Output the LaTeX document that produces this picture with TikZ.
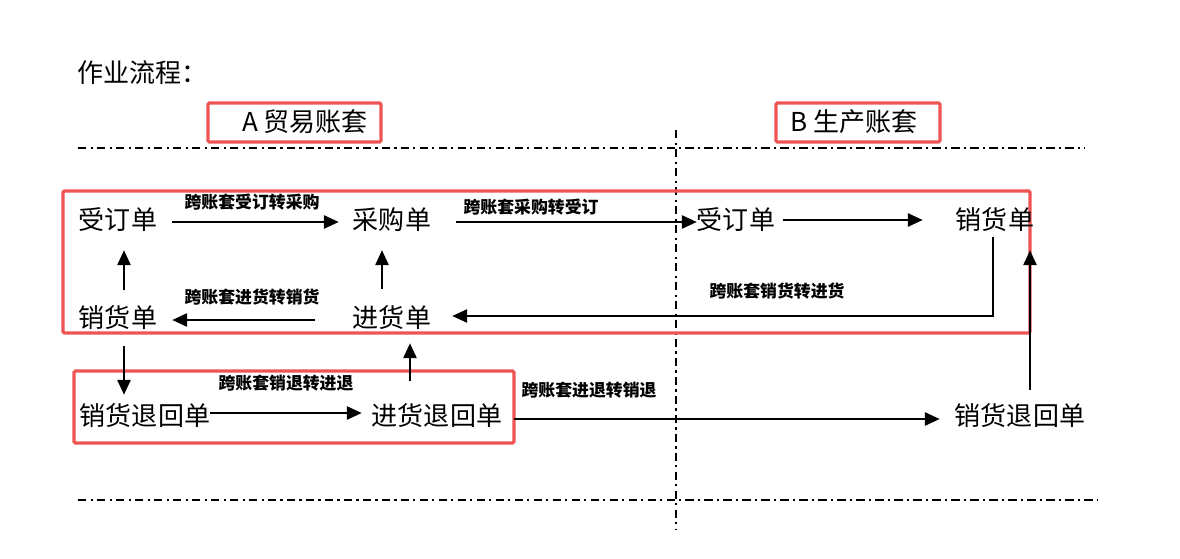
\documentclass[tikz,border=0pt]{standalone}
\usepackage{fontspec}
\setmainfont{Noto Sans CJK SC}
\usepackage{tikz}
\usetikzlibrary{calc}
\usetikzlibrary{arrows.meta}

\definecolor{boxred}{RGB}{238,84,84}
% one pixel of the page
\newcommand{\px}[1]{#1*0.025cm}

\begin{document}
\begin{tikzpicture}[
    x=0.025cm,y=-0.025cm,
    every node/.style={inner sep=0pt},
    doc/.style={font=\fontsize{18.5}{20}\selectfont},
    lbl/.style={font=\fontsize{12}{14}\selectfont\bfseries},
    arr/.style={draw,line width=1.4pt,-{Triangle[length=0.37cm,width=0.33cm]}},
    redbox/.style={draw=boxred,line width=2.2pt,rounded corners=1pt},
    sep/.style={line width=1.2pt,dash pattern=on 6pt off 3pt on 1.5pt off 3pt}
    ]
    \useasboundingbox (0,0) rectangle (1180,559);
    % title and the two account sets
    \node[doc,anchor=west] (title) at (77,73) {作业流程：};
    \node[doc] (setA) at (305,122) {A 贸易账套};
    \node[doc] (setB) at (854,122) {B 生产账套};
    \draw[redbox] (208,103) rectangle (381,142);
    \draw[redbox] (776,103) rectangle (940,142);
    % separators
    \draw[sep] (78,148) -- (1085,148);
    \draw[sep] (78,500) -- (1098,500);
    \draw[sep] (676,130) -- (676,530);
    % red frames
    \draw[redbox] (63,191) rectangle (1030,333);
    \draw[redbox] (74,371) rectangle (514,443);
    % documents
    \node[doc] (sdA) at (118,220) {受订单};
    \node[doc] (cg)  at (392,220) {采购单};
    \node[doc] (sdB) at (736,220) {受订单};
    \node[doc] (xhB) at (995,220) {销货单};
    \node[doc] (xhA) at (118,318) {销货单};
    \node[doc] (jh)  at (392,318) {进货单};
    \node[doc] (xt)  at (145,416) {销货退回单};
    \node[doc] (jt)  at (437,416) {进货退回单};
    \node[doc] (xtB) at (1020,416) {销货退回单};
    % labels
    \node[lbl] (l1) at (252,202) {跨账套受订转采购};
    \node[lbl] (l2) at (531,207) {跨账套采购转受订};
    \node[lbl] (l3) at (252,297) {跨账套进货转销货};
    \node[lbl] (l4) at (777,291) {跨账套销货转进货};
    \node[lbl] (l5) at (286,383) {跨账套销退转进退};
    \node[lbl] (l6) at (589,390) {跨账套进退转销退};
    % 1) top row
    \draw[arr,shorten <=\px{15},shorten >=\px{14}]
      ($(sdA.east)+(0,2)$) -- ($(cg.west)+(0,2)$);
    \draw[arr,shorten <=\px{25}]
      ($(cg.east)+(0,2)$) -- ($(sdB.west)+(0,2)$);
    \draw[arr,shorten <=\px{8},shorten >=\px{33}] (sdB.east) -- (xhB.west);
    % 2) back to the left
    \draw[arr,shorten <=\px{38},shorten >=\px{15}]
      ($(jh.west)+(0,2)$) -- ($(xhA.east)+(0,2)$);
    \draw[arr,shorten <=\px{5},shorten >=\px{21}]
      ($(xhB.south)+(-2,0)$) |- ($(jh.east)+(0,-2)$);
    % 3) verticals
    \draw[arr,shorten <=\px{16},shorten >=\px{18}]
      ($(xhA.north)+(6,0)$) -- ($(sdA.south)+(6,0)$);
    \draw[arr,shorten <=\px{17},shorten >=\px{18}]
      ($(jh.north)+(-10,0)$) -- ($(cg.south)+(-10,0)$);
    \draw[arr,shorten <=\px{16},shorten >=\px{9}]
      ($(xhA.south)+(6,0)$) -- ($(xt.north)+(-21,0)$);
    \draw[arr,shorten <=\px{23},shorten >=\px{13}]
      ($(jt.north)+(-27,0)$) -- ($(jh.south)+(18,0)$);
    \draw[arr,shorten <=\px{14},shorten >=\px{18}]
      ($(xtB.north)+(10,0)$) -- ($(xhB.south)+(35,0)$);
    % 4) returns
    \draw[arr,shorten >=\px{10}] ($(xt.east)+(0,-3)$) -- ($(jt.west)+(0,-3)$);
    \draw[arr,shorten <=\px{12},shorten >=\px{15}]
      ($(jt.east)+(0,3)$) -- ($(xtB.west)+(0,3)$);
  \end{tikzpicture}
\end{document}
